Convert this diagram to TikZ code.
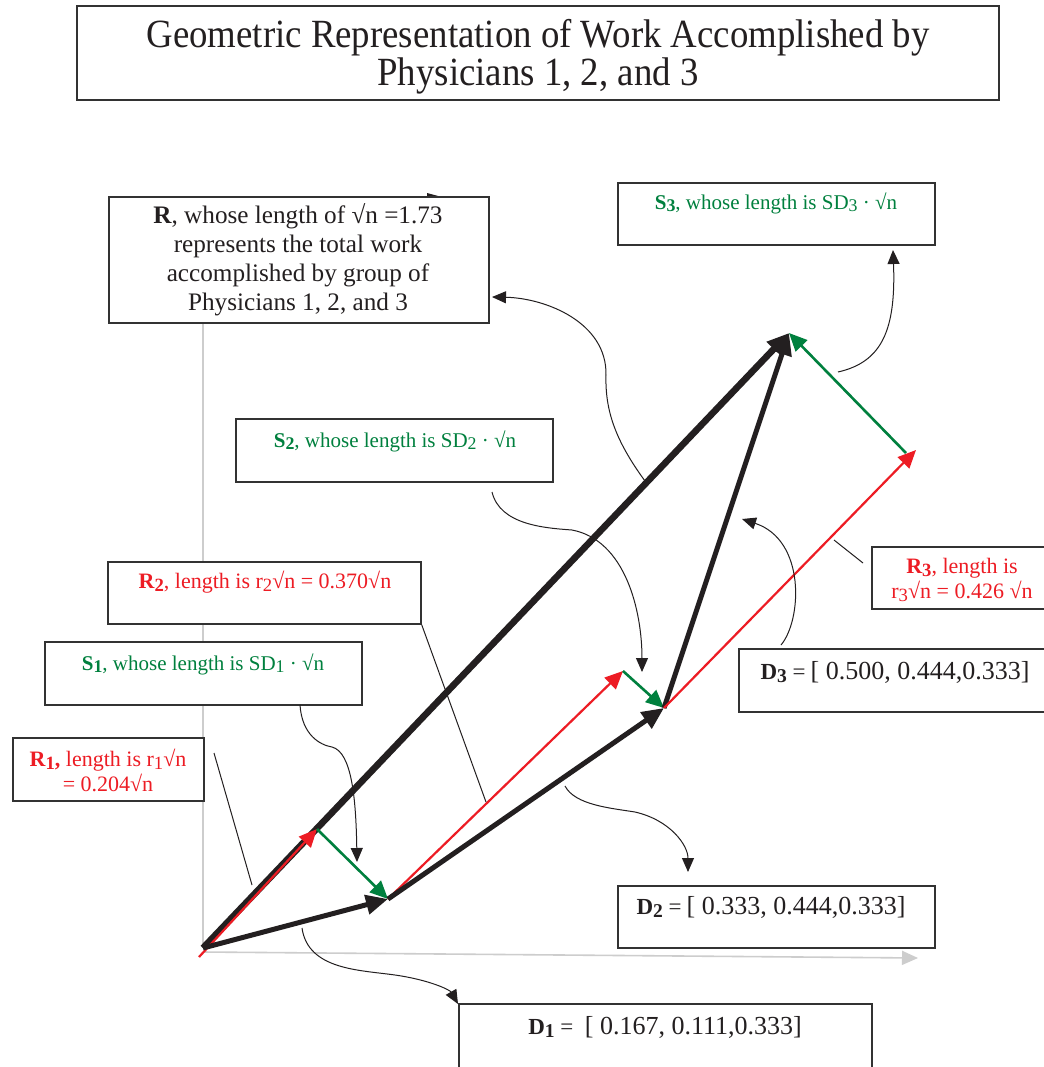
\documentclass[tikz,border=0pt]{standalone}
\usepackage{fontspec}
\usepackage{graphicx}
\setmainfont{Liberation Serif}
\newfontfamily\titlefont{Liberation Serif}[FakeStretch=0.92]
\usetikzlibrary{arrows.meta,fit}

\definecolor{vecred}{RGB}{237,28,36}
\definecolor{vecgreen}{RGB}{0,128,62}
\definecolor{vecblack}{RGB}{35,31,32}
\definecolor{axisgray}{RGB}{205,205,205}
\definecolor{boxline}{RGB}{50,50,50}

% lowered, slightly smaller index digits
\newcommand{\lsub}[1]{\raisebox{-0.3ex}{\scalebox{0.85}{#1}}}

\tikzset{
  box/.style={draw=boxline, line width=0.7pt, fill=white, inner sep=0pt},
  blackvec/.style={draw=vecblack, line width=2.5pt, -{Triangle[length=11pt,width=9.5pt]}},
  bigvec/.style={blackvec, line width=3.3pt},
  redvec/.style={draw=vecred, line width=1.1pt, -{Triangle[length=9pt,width=8pt]}},
  greenvec/.style={draw=vecgreen, line width=1.3pt, -{Triangle[length=9pt,width=8pt]}},
  leader/.style={draw=vecblack, line width=0.5pt},
  leadarrow/.style={leader, -{Triangle[length=7pt,width=6pt]}},
  axis/.style={draw=axisgray, line width=0.8pt},
  bigtxt/.style={align=center, text=vecblack, font=\fontsize{12.6}{14.5}\selectfont},
  gtxt/.style={align=center, text=vecgreen, font=\fontsize{10.5}{13}\selectfont},
  rtxt/.style={align=center, text=vecred, font=\fontsize{11}{12.5}\selectfont},
  dtxt/.style={align=center, text=vecblack},
}

\newcommand{\dlabel}[2]{{\fontsize{11.5}{13}\selectfont\textbf{D\lsub{#1}} =}\ {\fontsize{13}{15}\selectfont #2}}

\begin{document}
\begin{tikzpicture}[x=0.5pt,y=-0.5pt]
\clip (0,0) rectangle (1044,1067);
\fill[white] (0,0) rectangle (1044,1067);

% ---- vector end points ----
\coordinate (O) at (203,948);
\coordinate (r1start) at (199,957);
\coordinate (P1) at (388,899);
\coordinate (P2) at (664,708);
\coordinate (P3) at (789,333);
\coordinate (Q1) at (317,829);
\coordinate (Q2) at (623,671);
\coordinate (Q3) at (916,450);
\coordinate (G3) at (906,453);
\coordinate (xend) at (918,958);
\coordinate (yend) at (203,250);

% ---- axes ----
\draw[axis] (O) -- (yend);
\draw[axis, -{Triangle[length=8pt,width=7pt]}] (203,952) -- (xend);

% small tip peeking above the R box
\fill[vecblack] (427,193) -- (440,196.5) -- (427,198) -- cycle;

% ---- title ----
\node[box, fit={(77,6) (999,100)}] (titlebox) {};
\node[align=center, text=vecblack, font=\titlefont\fontsize{20}{19}\selectfont] (title) at (538,57)
  {Geometric Representation of Work Accomplished by\\Physicians 1, 2, and 3};

% ---- label boxes ----
\node[box, fit={(109,197) (489,323)}] (rbox) {};
\node[box, fit={(618,183) (935,245)}] (s3box) {};
\node[box, fit={(236,419) (553,482)}] (s2box) {};
\node[box, fit={(108,562) (421,624)}] (r2box) {};
\node[box, fit={(45,642) (362,705)}] (s1box) {};
\node[box, fit={(13,738) (204,801)}] (r1box) {};
\node[box, fit={(872,547) (1060,609)}] (r3box) {};
\node[box, fit={(739,649) (1060,712)}] (d3box) {};
\node[box, fit={(618,886) (935,948)}] (d2box) {};
\node[box, fit={(459,1004) (872,1080)}] (d1box) {};

\node[bigtxt] (rtext) at (298,260)
  {\textbf{R}, whose length of √n =1.73\\represents the total work\\accomplished by group of\\Physicians 1, 2, and 3};
\node[gtxt] (s3text) at (776,203) {\textbf{S\lsub{3}}, whose length is SD\lsub{3} · √n};
\node[gtxt] (s2text) at (395,441) {\textbf{S\lsub{2}}, whose length is SD\lsub{2} · √n};
\node[rtxt] (r2text) at (265,582) {\textbf{R\lsub{2}}, length is r\lsub{2}√n = 0.370√n};
\node[gtxt] (s1text) at (203,664) {\textbf{S\lsub{1}}, whose length is SD\lsub{1} · √n};
\node[rtxt] (r1text) at (108,770) {\textbf{R\lsub{1},} length is r\lsub{1}√n\\= 0.204√n};
\node[rtxt] (r3text) at (962,580) {\textbf{R\lsub{3}}, length is\\r\lsub{3}√n = 0.426 √n};
\node[dtxt] (d3text) at (895,672) {\dlabel{3}{[ 0.500, 0.444,0.333]}};
\node[dtxt] (d2text) at (771,907) {\dlabel{2}{[ 0.333, 0.444,0.333]}};
\node[dtxt] (d1text) at (665,1027) {\dlabel{1}{\ [ 0.167, 0.111,0.333]}};

% ---- vectors ----
\draw[bigvec] (O) -- (P3);
\draw[redvec] (r1start) -- (Q1);
\draw[blackvec] (O) -- (P1);
\draw[greenvec] (Q1) -- (P1);
\draw[redvec] (P1) -- (Q2);
\draw[blackvec] (P1) -- (P2);
\draw[greenvec] (Q2) -- (P2);
\draw[blackvec] (P2) -- (P3);
\draw[redvec] (P2) -- (Q3);
\draw[greenvec] (G3) -- (P3);

% ---- leader lines ----
\coordinate (rl0) at (645,481);
\coordinate (rl1) at (492,297);
\draw[leadarrow] (rl0) .. controls (615,440) and (605,410) .. (606,375)
  .. controls (607,322) and (545,298) .. (rl1);

\coordinate (s3l0) at (838,372);
\coordinate (s3l1) at (893,250);
\draw[leadarrow] (s3l0) .. controls (882,362) and (896,330) .. (s3l1);

\coordinate (s2l0) at (492,492);
\coordinate (s2l1) at (642,672);
\draw[leadarrow] (s2l0) .. controls (500,525) and (545,528) .. (572,530)
  .. controls (625,540) and (642,610) .. (s2l1);

\coordinate (r2l1) at (486,802);
\draw[leader] (r2box.south east) -- (r2l1);

\coordinate (d2l0) at (565,786);
\coordinate (d2l1) at (688,872);
\draw[leadarrow] (d2l0) .. controls (575,805) and (610,808) .. (635,812)
  .. controls (670,820) and (688,845) .. (d2l1);

\coordinate (d3l0) at (781,645);
\coordinate (d3l1) at (742,519);
\draw[leadarrow] (d3l0) .. controls (802,620) and (806,540) .. (d3l1);

\coordinate (r3l0) at (863,563);
\coordinate (r3l1) at (834,540);
\draw[leader] (r3l0) -- (r3l1);

\coordinate (s1l0) at (300,705);
\coordinate (s1l1) at (357,862);
\draw[leadarrow] (s1l0) .. controls (302,735) and (320,745) .. (332,747)
  .. controls (352,752) and (356,800) .. (s1l1);

\coordinate (r1l0) at (214,753);
\coordinate (r1l1) at (252,885);
\draw[leader] (r1l0) -- (r1l1);

\coordinate (d1l0) at (302,928);
\coordinate (d1l1) at (458,1004);
\draw[leadarrow] (d1l0) .. controls (308,970) and (360,970) .. (395,975)
  .. controls (430,980) and (450,990) .. (d1l1);
\end{tikzpicture}
\end{document}
